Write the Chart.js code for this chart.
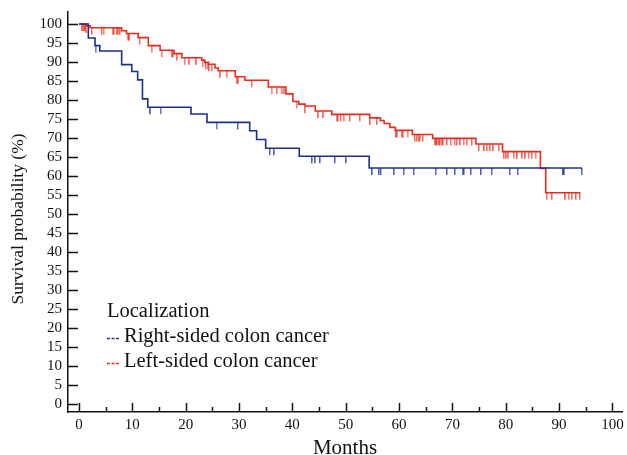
<!DOCTYPE html>
<html lang="en">
<head>
<meta charset="UTF-8">
<title>Survival by localization</title>
<script src="https://cdn.jsdelivr.net/npm/chart.js"></script>
<style>
  html, body { margin: 0; padding: 0; background: #fff; }
  #wrap { width: 627px; height: 455px; }
</style>
</head>
<body>
<div id="wrap"><canvas id="kmChart"></canvas></div>
<script>
// step times (months) and survival (%) after each step
const rightTimes = [0, 1.75, 3.0, 3.9, 8.0, 9.9, 11.0, 11.9, 12.9, 21.0, 24.0, 32.0, 33.3, 35.0, 41.3, 54.4, 94.3];
const rightSurv  = [100, 96.3, 94.3, 92.9, 89.3, 87.5, 85.3, 80.3, 78.1, 76.3, 74.1, 71.9, 69.6, 67.3, 65.2, 62.1, 62.1];
const rightCensored = [3.1, 13.4, 15.3, 25.8, 29.8, 35.8, 36.6, 43.7, 44.3, 45.2, 48.0, 50.1, 55.0, 56.3, 56.6,
  59.1, 60.9, 62.8, 66.9, 69.0, 70.5, 71.9, 72.2, 73.5, 75.4, 77.4, 80.8, 82.3, 90.8, 91.0, 94.3];

const leftTimes = [0, 1.3, 2.1, 8.0, 8.9, 11.1, 13.0, 15.2, 17.8, 19.3, 23.0, 23.6, 24.3, 25.5, 26.1, 29.3, 31.1,
  35.5, 38.8, 40.1, 41.2, 42.4, 44.3, 47.4, 54.5, 56.5, 57.2, 58.3, 59.3, 62.5, 66.3, 74.4, 79.4, 86.5, 87.5, 94.0];
const leftSurv  = [100, 99.5, 99.0, 98.2, 97.5, 96.4, 94.3, 93.1, 92.2, 91.1, 90.5, 89.9, 89.4, 88.4, 87.7, 86.1, 85.2,
  83.4, 81.6, 79.6, 78.9, 78.4, 77.1, 76.2, 75.3, 74.6, 73.8, 72.8, 72.0, 70.9, 69.9, 68.4, 66.4, 62.0, 55.6, 55.6];
const leftCensored = [0.5, 0.7, 0.9, 1.2, 1.4, 2.4, 4.3, 4.6, 6.3, 6.6, 7.1, 7.4, 7.7, 9.1, 9.3, 9.4, 11.4, 13.6,
  15.5, 17.4, 17.7, 18.4, 19.8, 20.7, 22.0, 23.2, 23.8, 24.1, 24.4, 24.9, 26.5, 27.7, 29.6, 29.9, 32.4, 36.1,
  37.1, 38.0, 38.5, 40.8, 42.4, 44.9, 45.8, 48.3, 48.6, 49.1, 49.6, 50.8, 52.7, 54.6, 55.9, 59.5, 59.7, 60.5,
  60.8, 61.6, 63.0, 63.4, 63.7, 64.0, 64.5, 66.7, 67.0, 67.2, 67.5, 67.7, 68.0, 68.3, 69.0, 69.7, 70.4, 70.9,
  71.5, 72.1, 72.7, 73.7, 75.0, 76.0, 76.5, 77.1, 77.7, 78.7, 79.7, 80.1, 80.5, 81.5, 82.2, 83.1, 83.7, 84.3,
  84.9, 85.6, 87.7, 88.7, 91.2, 91.8, 92.4, 93.2, 93.9];

const xTicks = [0, 10, 20, 30, 40, 50, 60, 70, 80, 90, 100];
const xMinorTicks = [5, 15, 25, 35, 45, 55, 65, 75, 85, 95];
const yTicks = [0, 5, 10, 15, 20, 25, 30, 35, 40, 45, 50, 55, 60, 65, 70, 75, 80, 85, 90, 95, 100];

const yTitle = 'Survival probability (%)';
const legendTitle = 'Localization';
const seriesNames = ['Right-sided colon cancer', 'Left-sided colon cancer'];

const BLUE = '#1c2f8c';
const RED = '#ec2a1c';
const SERIF = '"Liberation Serif", "Times New Roman", serif';

// survival value of a step curve at time t
function survAt(times, surv, t) {
  let v = surv[0];
  for (let i = 0; i < times.length; i++) {
    if (times[i] <= t) v = surv[i];
  }
  return v;
}

function curve(times, surv) {
  return times.map((t, i) => ({ x: t, y: surv[i] }));
}

function censorPoints(times, surv, cens) {
  return cens.map(t => ({ x: t, y: survAt(times, surv, t) }));
}

// small downward tick for censored cases
function tickMark(color) {
  const c = document.createElement('canvas');
  c.width = 2;
  c.height = 16;
  const g = c.getContext('2d');
  g.fillStyle = color;
  g.fillRect(0, 8, 1.5, 7);
  return c;
}

const frameTicks = {
  id: 'frameTicks',
  afterDraw(chart) {
    const { ctx, chartArea } = chart;
    const x = chart.scales.x;
    const y = chart.scales.y;
    ctx.save();
    ctx.strokeStyle = '#111';
    ctx.lineWidth = 1.5;
    ctx.beginPath();
    xTicks.forEach(v => {
      const px = Math.round(x.getPixelForValue(v)) + 0.5;
      ctx.moveTo(px, chartArea.bottom);
      ctx.lineTo(px, chartArea.bottom - 9);
    });
    xMinorTicks.forEach(v => {
      const px = Math.round(x.getPixelForValue(v)) + 0.5;
      ctx.moveTo(px, chartArea.bottom);
      ctx.lineTo(px, chartArea.bottom - 5);
    });
    yTicks.forEach(v => {
      const py = Math.round(y.getPixelForValue(v)) + 0.5;
      ctx.moveTo(chartArea.left, py);
      ctx.lineTo(chartArea.left + 10, py);
    });
    ctx.stroke();

    // y axis title, sits a little below the plot centre
    ctx.save();
    ctx.translate(18, 219);
    ctx.rotate(-Math.PI / 2);
    ctx.textAlign = 'center';
    ctx.textBaseline = 'middle';
    ctx.fillStyle = '#111';
    ctx.font = '17.5px ' + SERIF;
    ctx.fillText(yTitle, 0, 0);
    ctx.restore();

    // legend block
    const lx = chartArea.left + 39;
    ctx.fillStyle = '#111';
    ctx.textBaseline = 'middle';
    ctx.font = '20.5px ' + SERIF;
    ctx.fillText(legendTitle, lx, 312);
    [BLUE, RED].forEach((col, i) => {
      const ly = 338 + i * 25;
      ctx.strokeStyle = col;
      ctx.lineWidth = 1.3;
      ctx.setLineDash([3, 1.5]);
      ctx.beginPath();
      ctx.moveTo(lx, ly + 0.5);
      ctx.lineTo(lx + 13, ly + 0.5);
      ctx.stroke();
      ctx.setLineDash([]);
      ctx.fillStyle = '#111';
      ctx.fillText(seriesNames[i], lx + 17, ly - 1);
    });
    ctx.restore();
  }
};

const ctx = document.getElementById('kmChart').getContext('2d');
new Chart(ctx, {
  type: 'line',
  data: {
    datasets: [
      {
        label: seriesNames[0],
        data: curve(rightTimes, rightSurv),
        borderColor: BLUE,
        borderWidth: 1.6,
        stepped: true,
        pointRadius: 0,
        fill: false
      },
      {
        label: seriesNames[1],
        data: curve(leftTimes, leftSurv),
        borderColor: RED,
        borderWidth: 1.6,
        stepped: true,
        pointRadius: 0,
        fill: false
      },
      {
        label: 'right censored',
        data: censorPoints(rightTimes, rightSurv, rightCensored),
        showLine: false,
        pointStyle: tickMark('rgba(28,47,140,0.75)'),
        pointRadius: 3
      },
      {
        label: 'left censored',
        data: censorPoints(leftTimes, leftSurv, leftCensored),
        showLine: false,
        pointStyle: tickMark('rgba(236,42,28,0.7)'),
        pointRadius: 3
      }
    ]
  },
  options: {
    responsive: true,
    maintainAspectRatio: false,
    animation: false,
    events: [],
    layout: { padding: { top: 12, right: 2, left: 0, bottom: 0 } },
    plugins: {
      legend: { display: false },
      tooltip: { enabled: false }
    },
    scales: {
      x: {
        type: 'linear',
        min: -2.06,
        max: 101.8,
        afterFit: s => { s.height = 43; s.paddingLeft = 0; s.paddingRight = 0; },
        grid: { drawOnChartArea: false, drawTicks: false },
        border: { display: true, color: '#111', width: 1.5 },
        ticks: {
          stepSize: 10,
          includeBounds: false,
          autoSkip: false,
          maxRotation: 0,
          padding: 4,
          color: '#111',
          font: { family: SERIF, size: 15 }
        },
        title: {
          display: true,
          text: 'Months',
          color: '#111',
          padding: { top: 0, bottom: -4 },
          font: { family: SERIF, size: 21, lineHeight: 1 }
        }
      },
      y: {
        min: -2.1,
        max: 103.15,
        afterFit: s => { s.width = 68; s.paddingTop = 0; s.paddingBottom = 0; },
        grid: { drawOnChartArea: false, drawTicks: false },
        border: { display: true, color: '#111', width: 1.5 },
        ticks: {
          stepSize: 5,
          includeBounds: false,
          autoSkip: false,
          padding: 6,
          color: '#111',
          font: { family: SERIF, size: 15 }
        }
      }
    }
  },
  plugins: [frameTicks]
});
</script>
</body>
</html>
